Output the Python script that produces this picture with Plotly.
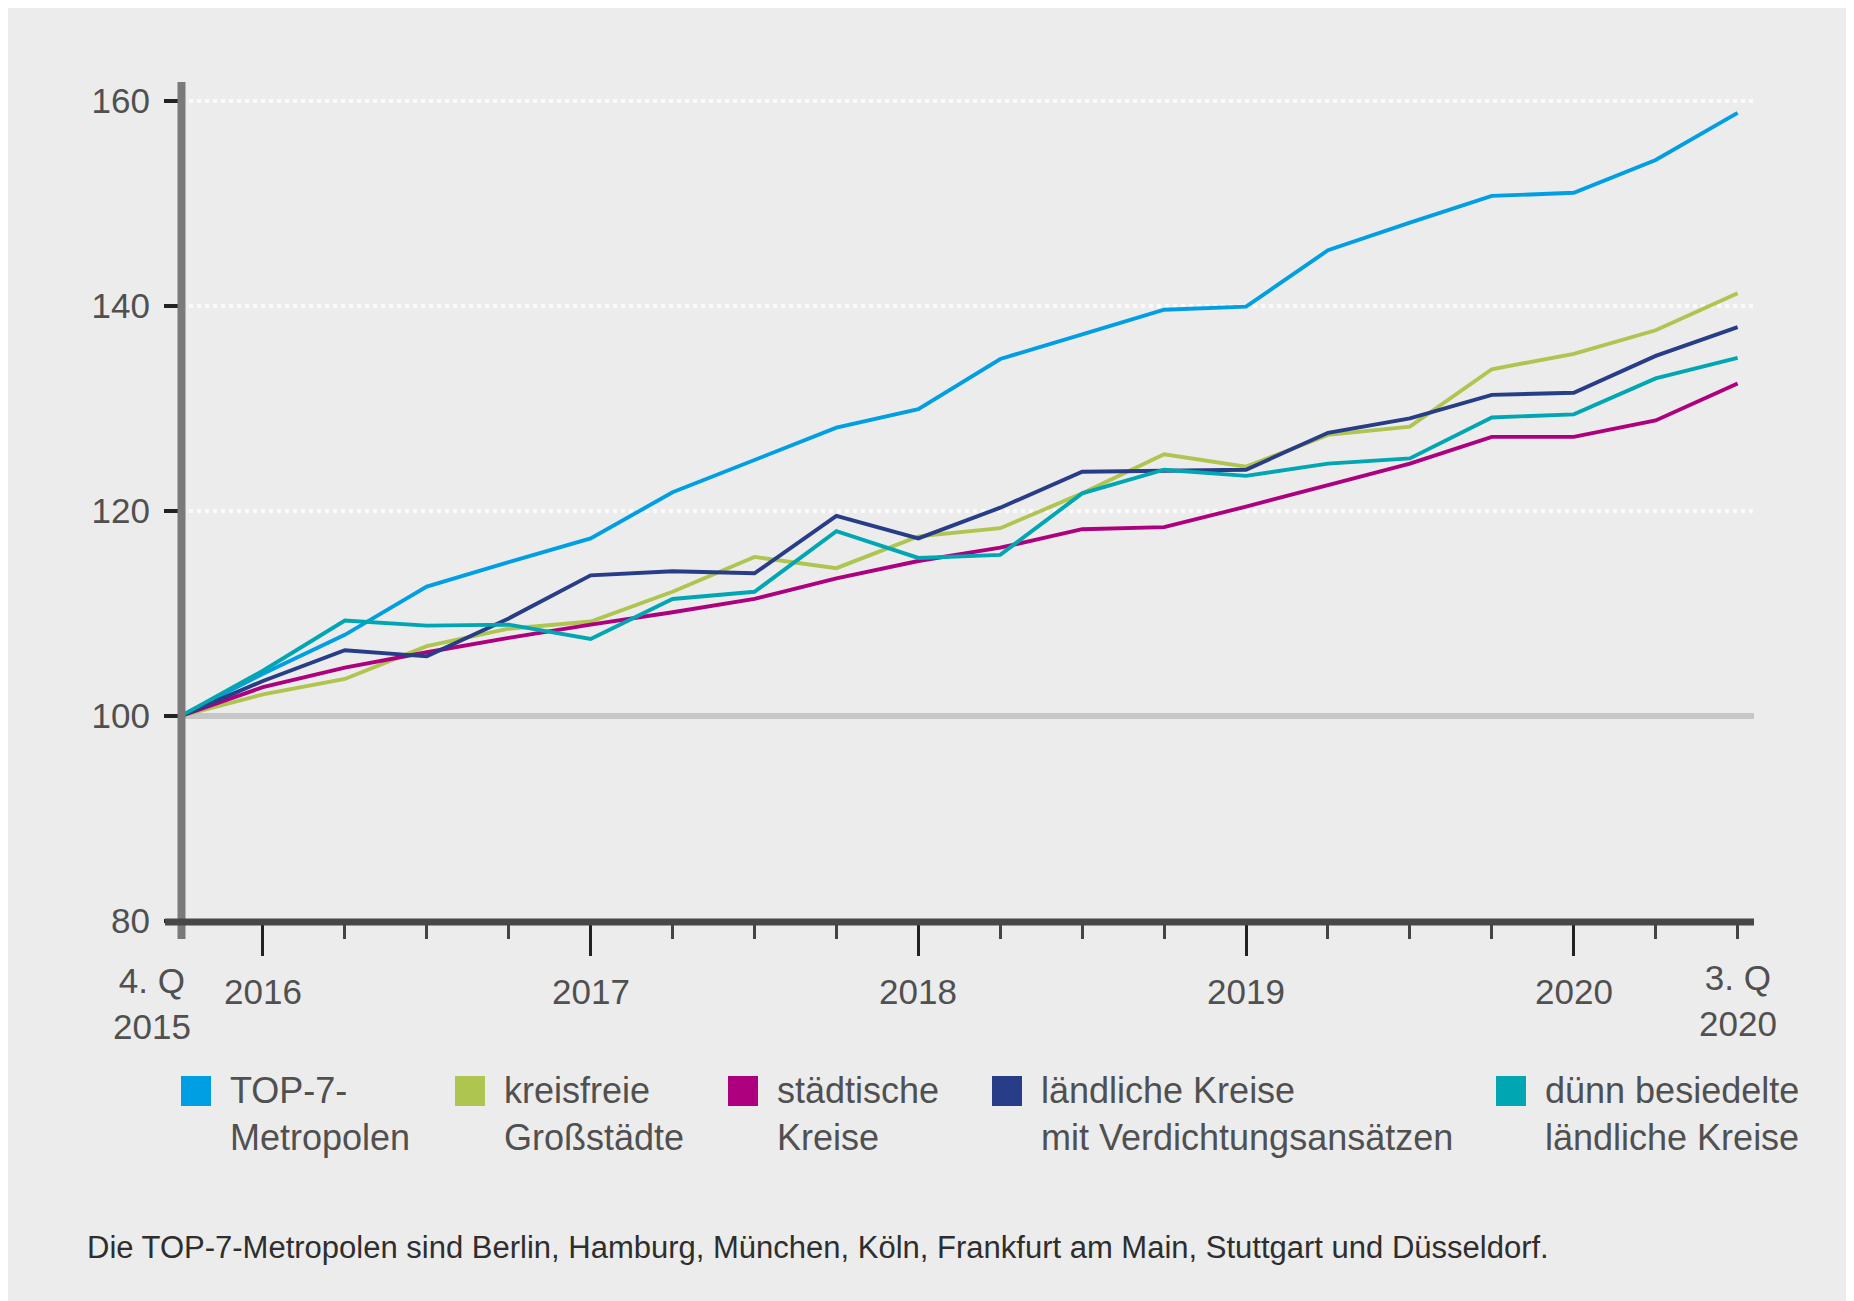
import plotly.graph_objects as go

# ---------------- data ----------------
quarters = ["4. Q 2015", "1. Q 2016", "2. Q 2016", "3. Q 2016", "4. Q 2016",
            "1. Q 2017", "2. Q 2017", "3. Q 2017", "4. Q 2017",
            "1. Q 2018", "2. Q 2018", "3. Q 2018", "4. Q 2018",
            "1. Q 2019", "2. Q 2019", "3. Q 2019", "4. Q 2019",
            "1. Q 2020", "2. Q 2020", "3. Q 2020"]

top7 = [100, 104.1, 107.9, 112.6, 115.0, 117.3, 121.8, 124.9, 128.1, 129.9,
        134.8, 137.2, 139.6, 139.9, 145.4, 148.1, 150.7, 151.0, 154.2, 158.8]
kreisfreie = [100, 102.1, 103.6, 106.8, 108.5, 109.2, 112.1, 115.5, 114.4, 117.5,
              118.3, 121.7, 125.5, 124.3, 127.4, 128.2, 133.8, 135.3, 137.6, 141.2]
staedtische = [100, 102.8, 104.7, 106.2, 107.6, 108.9, 110.1, 111.4, 113.4, 115.1,
               116.4, 118.2, 118.4, 120.4, 122.5, 124.6, 127.2, 127.2, 128.8, 132.4]
laendlich_verd = [100, 103.4, 106.4, 105.8, 109.5, 113.7, 114.1, 113.9, 119.5, 117.3,
                  120.3, 123.8, 123.9, 124.0, 127.6, 129.0, 131.3, 131.5, 135.1, 137.9]
duenn = [100, 104.4, 109.3, 108.8, 108.9, 107.5, 111.4, 112.1, 118.0, 115.4,
         115.7, 121.7, 124.0, 123.4, 124.6, 125.1, 129.1, 129.4, 132.9, 134.9]

series_names = ["TOP-7-<br>Metropolen", "kreisfreie<br>Großstädte", "städtische<br>Kreise",
                "ländliche Kreise<br>mit Verdichtungsansätzen", "dünn besiedelte<br>ländliche Kreise"]
series_values = [top7, kreisfreie, staedtische, laendlich_verd, duenn]

y_ticks = [80, 100, 120, 140, 160]
year_tick_idx = [1, 5, 9, 13, 17]
year_labels = ["2016", "2017", "2018", "2019", "2020"]
start_label = "4. Q<br>2015"
end_label = "3. Q<br>2020"
footnote = "Die TOP-7-Metropolen sind Berlin, Hamburg, München, Köln, Frankfurt am Main, Stuttgart und Düsseldorf."

# ---------------- layout / style ----------------
colors = ["#009fe3", "#aec54f", "#ae007e", "#273d87", "#00a7b2"]
FONT = "Liberation Sans, Arial, Helvetica, sans-serif"
TXT = "#505050"
BG = "#ececec"

OFF = 8  # page body margin; screen coordinates below are measured on the page
W, H = 1854, 1301
L, R, T, B = 173, 108, 72, 388
PW, PH = W - L - R, H - T - B


def px(xp):
    return (xp - OFF - L) / PW


def py(yp):
    return (H - B - (yp - OFF)) / PH


x_idx = list(range(len(quarters)))
x_max = 19.2

fig = go.Figure()
for name, vals, col in zip(series_names, series_values, colors):
    fig.add_trace(go.Scatter(x=x_idx, y=vals, mode="lines", name=name.replace("<br>", " "),
                             line=dict(color=col, width=3.9), showlegend=False,
                             hovertext=quarters, cliponaxis=False))

shapes = [
    # baseline at 100
    dict(type="line", xref="x", yref="y", x0=0, x1=x_max, y0=100, y1=100,
         line=dict(color="#c6c6c6", width=6), layer="between"),
    # y axis line
    dict(type="line", xref="paper", yref="paper", x0=px(181.5), x1=px(181.5), y0=py(82), y1=py(939),
         line=dict(color="#7a7a7a", width=8), layer="above"),
    # x axis line
    dict(type="line", xref="paper", yref="paper", x0=px(165), x1=px(1754), y0=py(922), y1=py(922),
         line=dict(color="#474747", width=7), layer="above"),
]

# legend squares and text
leg_x = [181, 455, 728, 992, 1496]
for lx, name, col in zip(leg_x, series_names, colors):
    shapes.append(dict(type="rect", xref="paper", yref="paper", x0=px(lx), x1=px(lx + 30),
                       y0=py(1076), y1=py(1106), fillcolor=col, line=dict(width=0)))

annotations = []
for lx, name in zip(leg_x, series_names):
    annotations.append(dict(xref="paper", yref="paper", x=px(lx + 47), y=py(1068), text=name,
                            xanchor="left", yanchor="top", align="left", showarrow=False,
                            font=dict(family=FONT, size=36, color=TXT)))

# x labels
for xi, lab in zip(year_tick_idx, year_labels):
    annotations.append(dict(xref="x", yref="paper", x=xi, y=py(991), text=lab, xanchor="center",
                            yanchor="middle", showarrow=False, font=dict(family=FONT, size=35, color=TXT)))
annotations.append(dict(xref="x", yref="paper", x=x_idx[0], xshift=-29, y=py(1003), text=start_label,
                        xanchor="center", yanchor="middle", align="center", showarrow=False,
                        font=dict(family=FONT, size=35, color=TXT)))
annotations.append(dict(xref="x", yref="paper", x=x_idx[-1], y=py(1000), text=end_label,
                        xanchor="center", yanchor="middle", align="center", showarrow=False,
                        font=dict(family=FONT, size=35, color=TXT)))
annotations.append(dict(xref="paper", yref="paper", x=px(85), y=py(1247), text=footnote,
                        xanchor="left", yanchor="middle", showarrow=False,
                        font=dict(family=FONT, size=31, color="#2e2e2e")))

fig.update_layout(
    width=W, height=H,
    margin=dict(l=L, r=R, t=T, b=B, pad=0),
    paper_bgcolor=BG, plot_bgcolor=BG,
    showlegend=False,
    shapes=shapes,
    annotations=annotations,
    xaxis=dict(range=[0, x_max], showline=False, zeroline=False, showgrid=False,
               tickmode="array", tickvals=year_tick_idx, ticks="outside", ticklen=34,
               tickwidth=3, tickcolor="#222222", showticklabels=False,
               minor=dict(tickmode="array", tickvals=x_idx, ticks="outside", ticklen=17,
                          tickwidth=3, tickcolor="#444444", showgrid=False)),
    yaxis=dict(range=[80, 162], showline=False, zeroline=False, showgrid=True,
               gridcolor="#fafafa", gridwidth=4, griddash="dot",
               tickmode="array", tickvals=y_ticks, ticks="outside", ticklen=16,
               tickwidth=4, tickcolor="#222222", ticklabelstandoff=7,
               tickfont=dict(family=FONT, size=35, color=TXT)),
)

fig.write_html("out.html")
